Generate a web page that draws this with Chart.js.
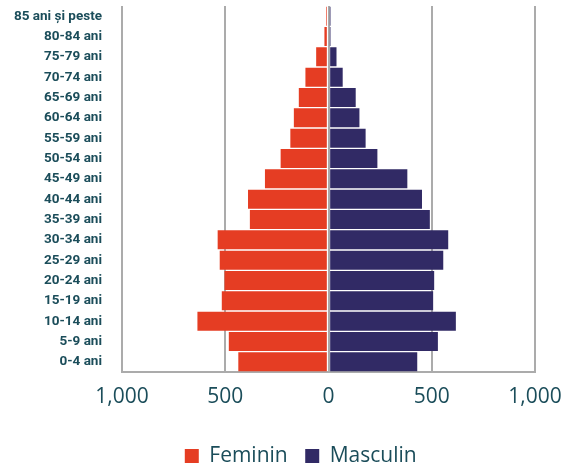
<!DOCTYPE html>
<html>
<head>
<meta charset="utf-8">
<script src="https://cdn.jsdelivr.net/npm/chart.js@4"></script>
<style>
  html, body { margin: 0; padding: 0; background: #fff; overflow: hidden; }
  #wrap { width: 571px; height: 471px; }
</style>
</head>
<body>
<div id="wrap"><canvas id="piramida"></canvas></div>
<script>
var grupeVarsta = [
  "85 ani și peste", "80-84 ani", "75-79 ani", "70-74 ani", "65-69 ani", "60-64 ani",
  "55-59 ani", "50-54 ani", "45-49 ani", "40-44 ani", "35-39 ani", "30-34 ani",
  "25-29 ani", "20-24 ani", "15-19 ani", "10-14 ani", "5-9 ani", "0-4 ani"
];

// femei ca valori negative (stanga), barbati pozitive (dreapta)
var feminin = [-13, -23, -63, -115, -147, -171, -188, -235, -311, -393, -384, -540, -530, -507, -520, -638, -486, -440];
var masculin = [11, 11, 42, 72, 135, 153, 183, 240, 385, 456, 494, 583, 559, 515, 510, 620, 533, 433];

var culoareText = "#1b4d5a";
var culoareGrila = "#ababab";

document.addEventListener("DOMContentLoaded", () => {
  var ctx = document.getElementById("piramida").getContext("2d");

  new Chart(ctx, {
    type: "bar",
    data: {
      labels: grupeVarsta,
      datasets: [
        {
          label: "Feminin",
          data: feminin,
          backgroundColor: "#e53d23",
          borderColor: "rgba(0,0,0,0)",
          borderWidth: 1,
          borderSkipped: false,
          barPercentage: 1,
          categoryPercentage: 1,
        },
        {
          label: "Masculin",
          data: masculin,
          backgroundColor: "#312a65",
          borderColor: "rgba(0,0,0,0)",
          borderWidth: 1,
          borderSkipped: false,
          barPercentage: 1,
          categoryPercentage: 1,
        },
      ],
    },
    options: {
      indexAxis: "y",
      responsive: true,
      maintainAspectRatio: false,
      animation: false,
      // dreapta negativ ca legenda sa fie centrata ca in original
      layout: { padding: { left: 0, right: -30.5, top: 6, bottom: -5.5 } },
      scales: {
        x: {
          stacked: true,
          min: -1000,
          max: 1000,
          afterFit: axis => {
            axis.height = 56;
            axis.paddingRight = 36;
          },
          ticks: {
            stepSize: 500,
            padding: 12,
            maxRotation: 0,
            color: culoareText,
            font: { family: "'Open Sans', sans-serif", size: 21 },
            callback: v => Math.abs(v).toLocaleString("en-US"),
          },
          grid: { color: culoareGrila, lineWidth: 2, drawTicks: false },
          border: { display: true, color: culoareGrila, width: 2 },
        },
        y: {
          stacked: true,
          afterFit: axis => {
            axis.width = 122;
            axis.paddingTop = 0;
            axis.paddingBottom = 0;
          },
          ticks: {
            padding: 12,
            autoSkip: false,
            color: culoareText,
            font: { family: "Roboto, sans-serif", size: 13.5, weight: "bold" },
          },
          grid: { display: false },
          border: { display: false },
        },
      },
      plugins: {
        legend: {
          position: "bottom",
          labels: {
            boxWidth: 14,
            boxHeight: 14,
            padding: 17.5,
            color: culoareText,
            font: { family: "'Open Sans', sans-serif", size: 21 },
          },
        },
        tooltip: { enabled: false },
      },
    },
  });
});
</script>
</body>
</html>
